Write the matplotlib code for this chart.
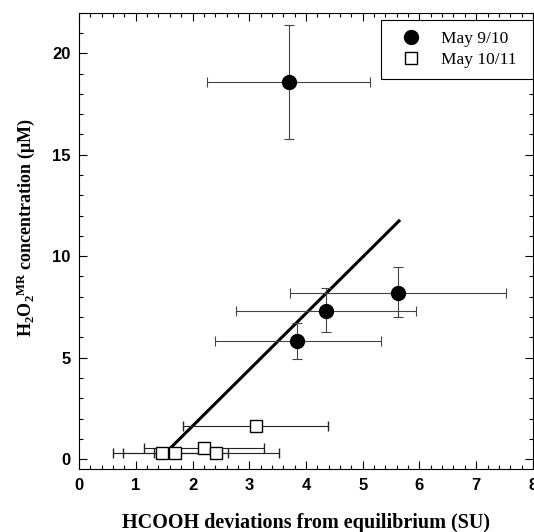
import matplotlib
matplotlib.use("Agg")
import matplotlib.pyplot as plt
import numpy as np
from matplotlib.lines import Line2D
from matplotlib.ticker import MultipleLocator

plt.rcParams["mathtext.fontset"] = "custom"
plt.rcParams["mathtext.rm"] = "Liberation Serif:bold"
plt.rcParams["mathtext.bf"] = "Liberation Serif:bold"
plt.rcParams["mathtext.it"] = "Liberation Serif:bold"

# May 9/10 (filled circles)
may910_x = [3.70, 5.62, 4.36, 3.85]
may910_y = [18.6, 8.2, 7.32, 5.8]
may910_xlo = [2.26, 3.71, 2.76, 2.39]
may910_xhi = [5.12, 7.53, 5.94, 5.32]
may910_ylo = [15.8, 7.0, 6.26, 4.91]
may910_yhi = [21.4, 9.48, 8.42, 6.7]

# May 10/11 (open squares)
may1011_x = [3.12, 1.47, 1.70, 2.20, 2.41]
may1011_y = [1.64, 0.30, 0.30, 0.56, 0.32]
may1011_xlo = [1.84, 0.59, 0.77, 1.15, 1.32]
may1011_xhi = [4.39, 2.40, 2.62, 3.26, 3.52]

# regression line end points
fit_x = [1.62, 5.64]
fit_y = [0.57, 11.74]


def main() -> None:
    fig = plt.figure(figsize=(5.34, 5.32), dpi=100)
    ax = fig.add_axes([0.148, 0.118, 0.85, 0.858])

    ax.plot(fit_x, fit_y, color="black", lw=2.2, zorder=2)

    x1 = np.array(may910_x)
    y1 = np.array(may910_y)
    xerr1 = [x1 - np.array(may910_xlo), np.array(may910_xhi) - x1]
    yerr1 = [y1 - np.array(may910_ylo), np.array(may910_yhi) - y1]
    ax.errorbar(x1, y1, xerr=xerr1, yerr=yerr1, fmt="o", color="black",
                ecolor="#444444", elinewidth=0.8, capsize=3.5, capthick=0.8,
                markersize=10, zorder=3)

    x2 = np.array(may1011_x)
    y2 = np.array(may1011_y)
    xerr2 = [x2 - np.array(may1011_xlo), np.array(may1011_xhi) - x2]
    ax.errorbar(x2, y2, xerr=xerr2, fmt="s", mfc="white", mec="black",
                mew=1.0, ecolor="#222222", elinewidth=0.8, capsize=3.5,
                capthick=0.8, markersize=8, zorder=3)

    ax.set_xlim(0, 8)
    ax.set_ylim(-0.5, 22)
    ax.xaxis.set_major_locator(MultipleLocator(1))
    ax.xaxis.set_minor_locator(MultipleLocator(0.2))
    ax.yaxis.set_major_locator(MultipleLocator(5))
    ax.yaxis.set_minor_locator(MultipleLocator(1))
    ax.tick_params(which="both", direction="in", top=True, right=True, width=0.8)
    ax.tick_params(which="major", length=6, labelsize=12, pad=6)
    ax.tick_params(which="minor", length=3)
    for lab in ax.get_xticklabels() + ax.get_yticklabels():
        lab.set_fontweight("bold")
        lab.set_family("Liberation Sans")

    ax.set_xlabel("HCOOH deviations from equilibrium (SU)", family="Liberation Serif",
                  fontweight="bold", fontsize=14.5)
    ax.xaxis.set_label_coords(0.5, -0.095)
    ax.set_ylabel(r"H$_\mathbf{2}$O$_\mathbf{2}$$^\mathbf{MR}$ concentration (μM)",
                  family="Liberation Serif", fontweight="bold", fontsize=13)
    ax.yaxis.set_label_coords(-0.092, 0.53)

    handles = [
        Line2D([], [], ls="none", marker="o", color="black", markersize=10),
        Line2D([], [], ls="none", marker="s", mfc="white", mec="black", mew=1.0, markersize=8),
    ]
    leg = ax.legend(handles, ["May 9/10", "May 10/11"],
                    loc="upper left", mode="expand",
                    bbox_to_anchor=(381 / 534, (532 - 79) / 532, 152 / 534, 59 / 532),
                    bbox_transform=fig.transFigure, borderaxespad=0,
                    prop={"family": "Liberation Serif", "size": 12.5},
                    frameon=True, fancybox=False, edgecolor="black", framealpha=1,
                    handletextpad=0.7, handlelength=2.1, borderpad=0.65,
                    labelspacing=0.25)
    leg.get_frame().set_linewidth(0.8)

    fig.savefig("out.png", dpi=100)
    plt.close(fig)


if __name__ == "__main__":
    main()
